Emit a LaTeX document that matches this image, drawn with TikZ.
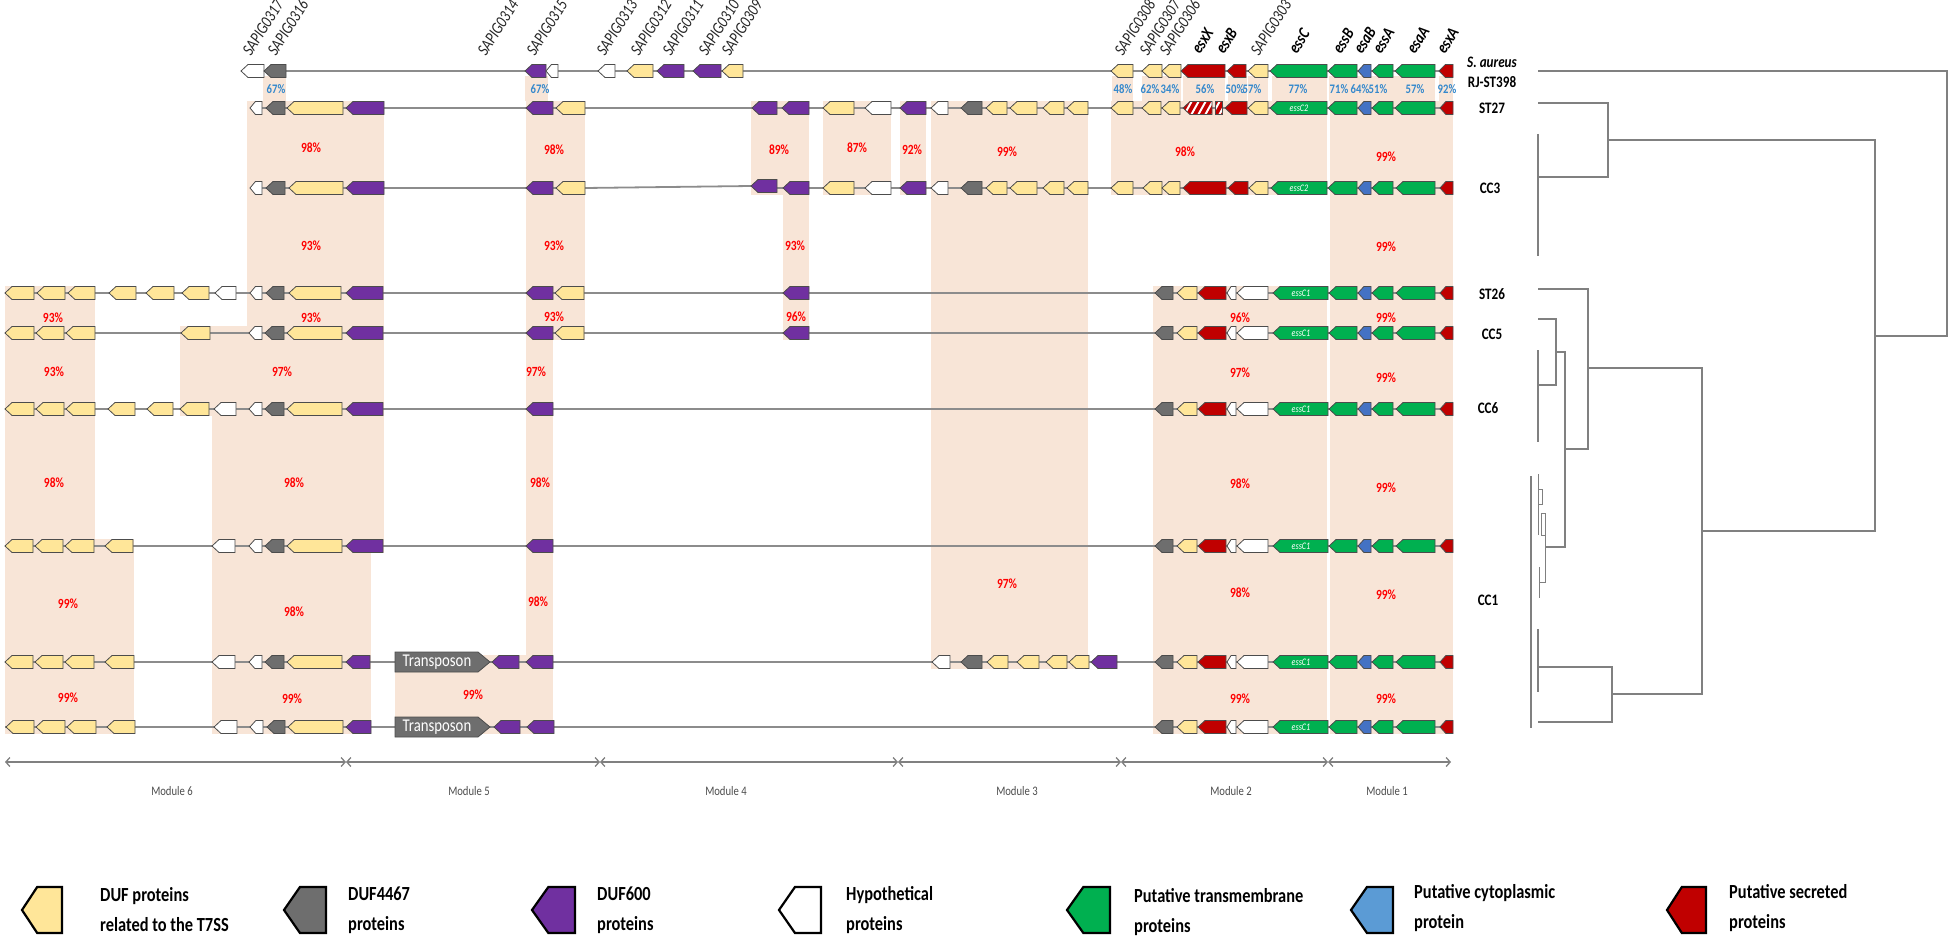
\documentclass[tikz,border=0pt]{standalone}
\usepackage{fontspec}
\setmainfont{Carlito}
\newfontfamily\condfont[FakeStretch=0.82]{Carlito}
\usetikzlibrary{arrows.meta}

\definecolor{dufyellow}{RGB}{255,230,153}
\definecolor{duf4467}{RGB}{110,110,110}
\definecolor{duf600}{RGB}{112,48,160}
\definecolor{tmgreen}{RGB}{0,176,80}
\definecolor{cytoblue}{RGB}{68,114,196}
\definecolor{legblue}{RGB}{91,155,213}
\definecolor{secred}{RGB}{192,0,0}
\definecolor{peach}{RGB}{248,229,215}
\definecolor{pctred}{RGB}{255,0,0}
\definecolor{pctblue}{RGB}{52,136,204}
\definecolor{linegray}{RGB}{140,140,140}
\definecolor{treegray}{RGB}{128,128,128}

% left pointing gene: style, x1 (tip), x2, y
\newcommand{\gn}[4]{%
  \pgfmathsetmacro\gtip{min(7,0.45*(#3-#2))}%
  \draw[gene,#1] (#2,#4) -- ({#2+\gtip},{#4-6.5}) -- (#3,{#4-6.5}) -- (#3,{#4+6.5}) -- ({#2+\gtip},{#4+6.5}) -- cycle;}
% module 2 and module 1 of the essC1 strains
\newcommand{\esstail}[2]{%
  \foreach \a/\b/\s in {1155/1173/ggry,1177/1197/gyel,1198/1226/gred,1227/1236/gwht,1237/1268/gwht,1273/1328/ggrn,1329/1357/ggrn,1358/1371/gblu,1372/1393/ggrn,1396/1435/ggrn,1440/1453/gred} {\gn{\s}{\a}{\b}{#1}}
  \node[genetxt] (#2) at (1301,#1) {essC1};}
% legend symbol: style, x1, x2
\newcommand{\lgn}[3]{%
  \draw[legsym,#1] (#2,910) -- ({#2+0.38*(#3-#2)},887) -- (#3,887) -- (#3,933) -- ({#2+0.38*(#3-#2)},933) -- cycle;}

\begin{document}
\begin{tikzpicture}[x=1pt,y=-1pt,
  gene/.style={draw=black!70,line width=0.8pt,line join=miter},
  gyel/.style={fill=dufyellow},
  ggry/.style={fill=duf4467},
  gpur/.style={fill=duf600},
  gwht/.style={fill=white},
  ggrn/.style={fill=tmgreen},
  gblu/.style={fill=cytoblue},
  gred/.style={fill=secred},
  legsym/.style={draw=black,line width=2.2pt,line join=miter},
  backbone/.style={draw=linegray,line width=1.8pt},
  tree/.style={draw=treegray,line width=1.5pt},
  pct/.style={text=pctred,font=\condfont\bfseries\fontsize{14}{14}\selectfont,inner sep=0},
  bpct/.style={text=pctblue,font=\condfont\bfseries\fontsize{13}{13}\selectfont,inner sep=0},
  glab/.style={rotate=58,anchor=base west,inner sep=0,text=black!85,font=\condfont\itshape\fontsize{17}{17}\selectfont},
  glabb/.style={glab,text=black,font=\condfont\bfseries\itshape\fontsize{17}{17}\selectfont},
  genetxt/.style={text=white,inner sep=0,font=\condfont\itshape\fontsize{10}{10}\selectfont},
  strain/.style={inner sep=0,font=\condfont\bfseries\fontsize{16}{16}\selectfont},
  modtxt/.style={inner sep=0,text=black!70,font=\condfont\fontsize{13}{13}\selectfont},
  legtxt/.style={anchor=west,inner sep=0,align=left,font=\condfont\bfseries\fontsize{20}{30}\selectfont},
  modax/.style={draw=gray,line width=1.3pt,<->,>={Straight Barb[length=4pt,width=9pt]}}]
\useasboundingbox (0,0) rectangle (1950,944);

% shaded identity blocks
\foreach \a/\b/\c/\d in {263/76/286/101,525/76/548/101,1112/76/1133/101,1142/76/1181/101,
  1183/76/1225/101,1228/76/1247/101,1248/76/1268/101,1272/76/1327/101,1329/76/1435/101,1439/76/1453/101,
  247/101/384/340,180/326/384/416,212/402/384/553,212/539/371/734,5/286/95/553,5/539/134/734,
  526/101/585/340,526/326/553/669,395/655/553/734,751/101/809/195,783/181/809/340,823/101/891/195,
  900/101/926/195,931/101/1088/669,1111/101/1327/195,1153/286/1327/734,1330/101/1453/734}
  \fill[peach] (\a,\b) rectangle (\c,\d);

% backbones
\draw[backbone] (241,71) -- (1453,71);
\draw[backbone] (250,108) -- (1453,108);
\draw[backbone] (250,188) -- (585,188) -- (751,186);
\draw[backbone] (777,188) -- (1453,188);
\foreach \y in {293,333,409,546,662,727}
  \draw[backbone] (5,\y) -- (1453,\y);

% S. aureus RJ-ST398
\foreach \a/\b/\s in {241/264/gwht,264/286/ggry,525/546/gpur,546/558/gwht,598/615/gwht,627/653/gyel,657/684/gpur,693/721/gpur,722/743/gyel,1111/1133/gyel,1142/1162/gyel,1162/1181/gyel,1181/1225/gred,1227/1246/gred,1248/1268/gyel,1270/1327/ggrn,1328/1357/ggrn,1358/1371/gblu,1372/1393/ggrn,1395/1435/ggrn,1439/1453/gred}
  {\gn{\s}{\a}{\b}{71}}

% ST27
\foreach \a/\b/\s in {250/262/gwht,266/285/ggry,287/343/gyel,346/384/gpur,526/553/gpur,556/585/gyel,752/777/gpur,782/809/gpur,823/854/gyel,865/891/gwht,900/926/gpur,931/948/gwht,961/982/ggry,986/1007/gyel,1010/1037/gyel,1043/1064/gyel,1067/1088/gyel,1111/1133/gyel,1142/1161/gyel,1162/1180/gyel,1225/1247/gred,1248/1268/gyel,1270/1327/ggrn,1328/1357/ggrn,1358/1371/gblu,1372/1393/ggrn,1395/1435/ggrn,1440/1453/gred}
  {\gn{\s}{\a}{\b}{108}}
\begin{scope}
  \clip (1183,108) -- (1190,101.5) -- (1212,101.5) -- (1212,114.5) -- (1190,114.5) -- cycle
        (1215,101.5) rectangle (1222,114.5);
  \fill[secred] (1180,100) rectangle (1225,116);
  \foreach \k in {0,7,...,42}
    \draw[white,line width=2pt] (1176+\k,117) -- (1186+\k,99);
\end{scope}
\draw[gene] (1183,108) -- (1190,101.5) -- (1212,101.5) -- (1212,114.5) -- (1190,114.5) -- cycle;
\draw[gene] (1215,101.5) rectangle (1222,114.5);
\node[genetxt] (c2a) at (1299,108) {essC2};

% CC3
\foreach \a/\b/\s in {250/262/gwht,266/285/ggry,289/343/gyel,346/384/gpur,526/553/gpur,556/585/gyel,783/809/gpur,823/854/gyel,865/891/gwht,900/926/gpur,931/948/gwht,961/982/ggry,986/1007/gyel,1010/1037/gyel,1043/1064/gyel,1067/1088/gyel,1111/1133/gyel,1143/1162/gyel,1162/1180/gyel,1183/1226/gred,1228/1248/gred,1249/1268/gyel,1271/1327/ggrn,1328/1357/ggrn,1358/1371/gblu,1372/1393/ggrn,1396/1435/ggrn,1440/1453/gred}
  {\gn{\s}{\a}{\b}{188}}
\gn{gpur}{751}{777}{186}
\node[genetxt] (c2b) at (1299,188) {essC2};

% ST26
\foreach \a/\b/\s in {5/34/gyel,37/65/gyel,68/95/gyel,109/136/gyel,146/174/gyel,182/209/gyel,215/236/gwht,250/262/gwht,266/284/ggry,289/341/gyel,346/383/gpur,526/553/gpur,555/584/gyel,783/809/gpur}
  {\gn{\s}{\a}{\b}{293}}
\esstail{293}{c1a}
% CC5
\foreach \a/\b/\s in {5/34/gyel,36/64/gyel,66/95/gyel,181/210/gyel,249/262/gwht,265/284/ggry,287/342/gyel,346/383/gpur,526/553/gpur,555/584/gyel,783/809/gpur}
  {\gn{\s}{\a}{\b}{333}}
\esstail{333}{c1b}
% CC6
\foreach \a/\b/\s in {5/34/gyel,36/64/gyel,66/95/gyel,108/135/gyel,147/173/gyel,180/209/gyel,214/236/gwht,249/262/gwht,265/284/ggry,287/342/gyel,346/383/gpur,526/553/gpur}
  {\gn{\s}{\a}{\b}{409}}
\esstail{409}{c1c}
% CC1
\foreach \a/\b/\s in {5/33/gyel,35/63/gyel,65/94/gyel,105/133/gyel,212/235/gwht,249/262/gwht,265/284/ggry,287/342/gyel,346/383/gpur,526/553/gpur}
  {\gn{\s}{\a}{\b}{546}}
\esstail{546}{c1d}
\foreach \a/\b/\s in {5/33/gyel,35/63/gyel,65/94/gyel,105/134/gyel,212/235/gwht,249/262/gwht,265/284/ggry,287/342/gyel,346/370/gpur,492/519/gpur,526/553/gpur,932/950/gwht,961/982/ggry,987/1008/gyel,1017/1039/gyel,1046/1067/gyel,1069/1089/gyel,1091/1117/gpur}
  {\gn{\s}{\a}{\b}{662}}
\esstail{662}{c1e}
\foreach \a/\b/\s in {6/34/gyel,36/65/gyel,67/96/gyel,107/135/gyel,214/237/gwht,250/263/gwht,267/285/ggry,288/343/gyel,346/371/gpur,494/520/gpur,527/554/gpur}
  {\gn{\s}{\a}{\b}{727}}
\esstail{727}{c1f}

% transposons
\foreach \y [count=\i] in {662,727}{
  \draw[gene,ggry] (395,\y-10) -- (478,\y-10) -- (490,\y) -- (478,\y+10) -- (395,\y+10) -- cycle;
  \node[text=white,inner sep=0,font=\condfont\fontsize{18}{18}\selectfont] (tn\i) at (437,\y) {Transposon};
}

% gene names
\foreach \x/\t [count=\i] in {251/SAPIG0317,276/SAPIG0316,486/SAPIG0314,535/SAPIG0315,605/SAPIG0313,639/SAPIG0312,671/SAPIG0311,707/SAPIG0310,730/SAPIG0309,1123/SAPIG0308,1148/SAPIG0307,1168/SAPIG0306,1259/SAPIG0303}
  \node[glab] (gl\i) at (\x,57) {\t};
\foreach \x/\t [count=\i] in {1200/esxX,1224/esxB,1297/essC,1341/essB,1362/esaB,1381/essA,1415/esaA,1445/esxA}
  \node[glabb] (gb\i) at (\x,55) {\t};

% identities to RJ-ST398
\foreach \x/\p [count=\i] in {276/67,540/67,1123/48,1150/62,1170/34,1205/56,1235/50,1252/57,1298/77,1339/71,1360/64,1378/51,1415/57,1447/92}
  \node[bpct] (bp\i) at (\x,89) {\p\%};

% identities between strains
\foreach \x/\y/\p [count=\i] in {311/148/98,554/150/98,779/150/89,857/148/87,912/150/92,1007/152/99,1185/152/98,1386/157/99,
  311/246/93,554/246/93,795/246/93,1386/247/99,
  53/318/93,311/318/93,554/317/93,796/317/96,1240/318/96,1386/318/99,
  54/372/93,282/372/97,536/372/97,1240/373/97,1386/378/99,
  54/483/98,294/483/98,540/483/98,1240/484/98,1386/488/99,1007/584/97,
  68/604/99,294/612/98,538/602/98,1240/593/98,1386/595/99,
  68/698/99,292/699/99,473/695/99,1240/699/99,1386/699/99}
  \node[pct] (pr\i) at (\x,\y) {\p\%};

% strains
\node[strain] (saur) at (1492,62) {\itshape S. aureus};
\node[strain] (rj) at (1492,82) {RJ-ST398};
\node[strain] (st27) at (1492,108) {ST27};
\node[strain] (cc3) at (1490,188) {CC3};
\node[strain] (st26) at (1492,294) {ST26};
\node[strain] (cc5) at (1492,334) {CC5};
\node[strain] (cc6) at (1488,408) {CC6};
\node[strain] (cc1) at (1488,600) {CC1};

% tree
\draw[tree] (1538,71) -- (1947,71) -- (1947,336) -- (1875,336);
\draw[tree] (1608,140) -- (1875,140) -- (1875,531) -- (1702,531);
\draw[tree] (1538,103) -- (1608,103) -- (1608,177) -- (1538,177);
\draw[tree] (1538,134) -- (1538,256);
\draw[tree] (1538,289) -- (1588,289) -- (1588,449) -- (1565,449);
\draw[tree] (1588,368) -- (1702,368) -- (1702,694) -- (1612,694);
\draw[tree] (1538,319) -- (1556,319) -- (1556,385) -- (1538,385);
\draw[tree] (1538,350) -- (1538,442);
\draw[tree] (1556,352) -- (1565,352) -- (1565,547) -- (1545,547);
\draw[tree,line width=2pt] (1531,476) -- (1531,728);
\draw[tree,line width=1pt] (1538,474) -- (1538,535);
\draw[tree,line width=1pt] (1538,489) rectangle (1542,504);
\draw[tree,line width=1pt] (1541,513) rectangle (1545,535);
\draw[tree,line width=1pt] (1539,567) -- (1539,598);
\draw[tree,line width=1pt] (1545,513) -- (1545,582) -- (1539,582);
\draw[tree] (1538,629) -- (1538,692);
\draw[tree] (1538,667) -- (1612,667) -- (1612,722) -- (1538,722);

% modules
\foreach \a/\b/\m [count=\i] in {5/346/6,346/600/5,600/898/4,898/1121/3,1121/1328/2,1328/1451/1}
  \draw[modax] (\a,762) -- (\b,762);
\foreach \x/\m in {172/6,469/5,726/4,1017/3,1231/2,1387/1}
  \node[modtxt] (mod\m) at (\x,791) {Module \m};

% legend
\lgn{fill=dufyellow}{22}{62}
\node[legtxt] (ly) at (100,910) {DUF proteins\\related to the T7SS};
\lgn{fill=duf4467}{284}{326}
\node[legtxt] (lg) at (348,910) {DUF4467\\proteins};
\lgn{fill=duf600}{532}{575}
\node[legtxt] (lp) at (597,910) {DUF600\\proteins};
\lgn{fill=white}{779}{821}
\node[legtxt] (lw) at (846,910) {Hypothetical\\proteins};
\lgn{fill=tmgreen}{1067}{1110}
\node[legtxt] (lgr) at (1134,912) {Putative transmembrane\\proteins};
\lgn{fill=legblue}{1351}{1393}
\node[legtxt] (lb) at (1414,908) {Putative cytoplasmic\\protein};
\lgn{fill=secred}{1667}{1706}
\node[legtxt] (lr) at (1729,908) {Putative secreted\\proteins};
\end{tikzpicture}
\end{document}
